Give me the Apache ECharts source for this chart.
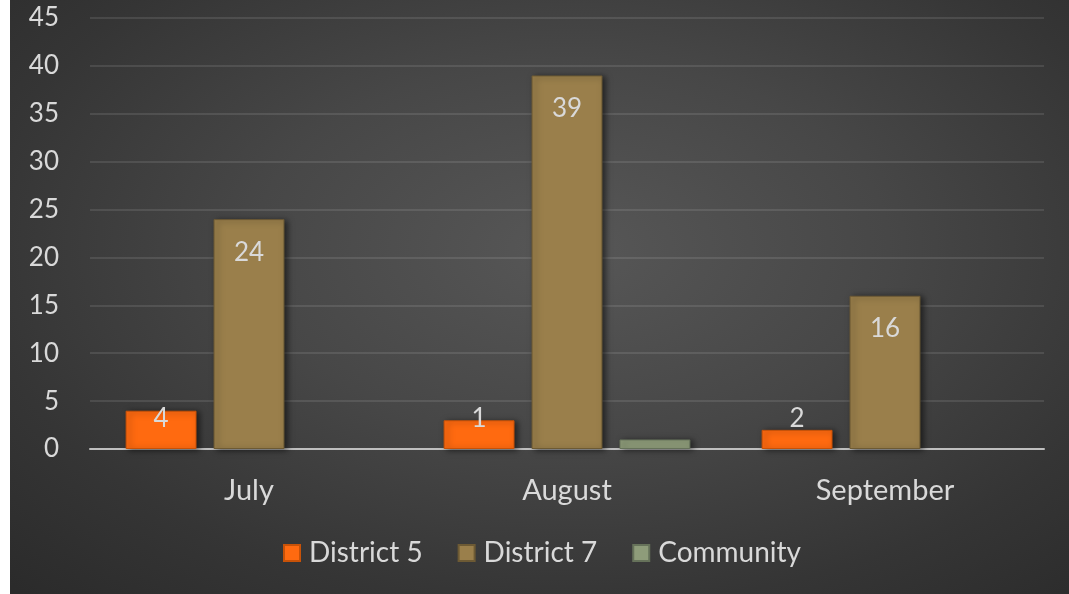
<!DOCTYPE html>
<html><head><meta charset="utf-8">
<script src="https://cdn.jsdelivr.net/npm/echarts@6/dist/echarts.min.js"></script>
<style>
html,body{margin:0;padding:0;background:#fff;width:1069px;height:594px;overflow:hidden}
#chart{position:absolute;left:10px;top:0;width:1059px;height:594px;
background:radial-gradient(ellipse 75% 80% at 53% 42%, #575757 0%, #474747 40%, #353535 75%, #2b2b2b 100%);}
</style></head>
<body><div id="chart"></div>
<script>
const categories = ['July', 'August', 'September'];
const district5 = [4, 3, 2];
const district5Labels = ['4', '1', '2'];
const district7 = [24, 39, 16];
const district7Labels = ['24', '39', '16'];
const community = [0, 1, 0];
const yTicks = [0, 45, 5];

const chart = echarts.init(document.getElementById('chart'), null, {renderer: 'canvas'});
const FONT = 'Lato';
const txt = '#d9d9d9';
const shadow = {shadowColor: 'rgba(0,0,0,0.55)', shadowBlur: 6, shadowOffsetX: 3, shadowOffsetY: 1};

function hideZeros(arr) {
  return arr.map(v => v === 0 ? {value: v, itemStyle: {opacity: 0}} : v);
}
function smallLabel(labels) {
  return {show: true, position: 'insideBottom', distance: 17, color: txt, fontFamily: FONT, fontSize: 26,
    formatter: p => labels[p.dataIndex]};
}
function topLabel(labels) {
  return {show: true, position: 'insideTop', distance: 20, color: txt, fontFamily: FONT, fontSize: 26,
    formatter: p => labels[p.dataIndex]};
}

chart.setOption({
  animation: false,
  backgroundColor: 'transparent',
  grid: {left: 80, right: 25, top: 18, bottom: 145, containLabel: false},
  legend: {
    left: 268, top: 534, itemWidth: 16, itemHeight: 16, itemGap: 35,
    icon: 'rect',
    textStyle: {color: txt, fontFamily: FONT, fontSize: 28, padding: [0, 0, 0, 4]},
    data: ['District 5', 'District 7', 'Community']
  },
  xAxis: {
    type: 'category', data: categories,
    axisLine: {lineStyle: {color: '#bfbfbf', width: 2}},
    axisTick: {show: false},
    axisLabel: {color: txt, fontFamily: FONT, fontSize: 29, margin: 27}
  },
  yAxis: {
    type: 'value', min: yTicks[0], max: yTicks[1], interval: yTicks[2],
    axisLine: {show: false}, axisTick: {show: false},
    axisLabel: {color: txt, fontFamily: FONT, fontSize: 26, margin: 31},
    splitLine: {lineStyle: {color: 'rgba(255,255,255,0.1)', width: 2}}
  },
  series: [
    {name: 'District 5', type: 'bar', data: district5, barWidth: '22.3%', barGap: '24%',
      itemStyle: Object.assign({color: '#ff6a10', borderColor: '#c85208', borderWidth: 1}, shadow),
      label: smallLabel(district5Labels)},
    {name: 'District 7', type: 'bar', data: district7, barWidth: '22.3%', barGap: '24%',
      itemStyle: Object.assign({color: '#9a7f4b', borderColor: '#6d5a34', borderWidth: 1}, shadow),
      label: topLabel(district7Labels)},
    {name: 'Community', type: 'bar', data: hideZeros(community), barWidth: '22.3%', barGap: '24%',
      itemStyle: Object.assign({color: '#8e9c7a', borderColor: '#66725a', borderWidth: 1}, shadow),
      label: {show: false}}
  ]
});
</script></body></html>
